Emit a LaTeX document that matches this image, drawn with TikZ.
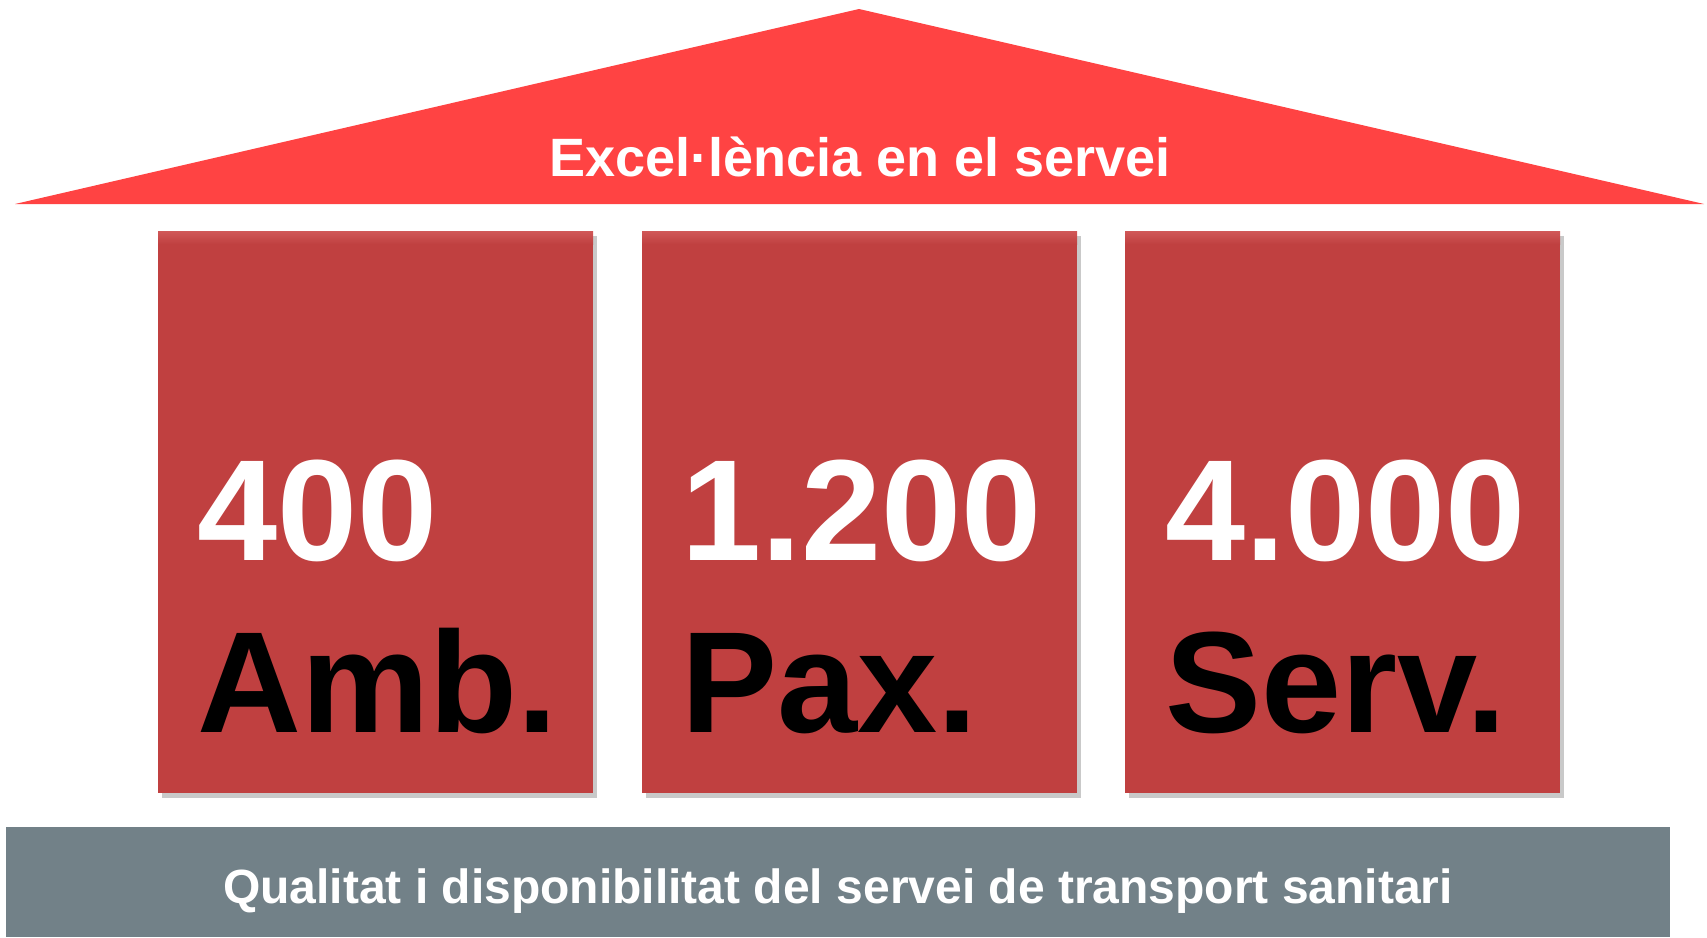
\documentclass[tikz,border=0pt]{standalone}
\usepackage{fontspec}
\setmainfont{Liberation Sans}
\usetikzlibrary{shadows}
\definecolor{roofred}{RGB}{255,67,67}
\definecolor{pillar}{RGB}{192,64,64}
\definecolor{pillartop}{RGB}{208,88,88}
\definecolor{basegrey}{RGB}{114,129,136}
\tikzset{
  pillarbox/.style={fill=pillar, draw=none, minimum width=435pt, minimum height=562pt, inner sep=0pt, anchor=north west,
    drop shadow={shadow xshift=4pt, shadow yshift=-5pt, opacity=0.3, fill=black!70}},
  bignum/.style={text=white, inner sep=0pt, anchor=base west, font=\fontsize{144}{150}\selectfont\bfseries},
  bigword/.style={text=black, inner sep=0pt, anchor=base west, font=\fontsize{144}{150}\selectfont\bfseries},
  rooftext/.style={text=white, inner sep=0pt, anchor=base, font=\fontsize{54}{60}\selectfont\bfseries},
  basetext/.style={text=white, inner sep=0pt, anchor=base, font=\fontsize{48}{54}\selectfont\bfseries}
}
\begin{document}
\begin{tikzpicture}[x=1pt,y=-1pt]
\useasboundingbox (0,0) rectangle (1707,937);
% roof
\fill[roofred] (15,204) -- (859,9) -- (1704,204) -- cycle;
\node[rooftext] (roof) at (860,176) {Excel·lència en el servei};
% pillars
\foreach \name/\x in {p1/158,p2/642,p3/1125}{
  \node[pillarbox] (\name) at (\x,231) {};
  \shade[top color=pillartop, bottom color=pillar] (\x,231) rectangle (\x+435,244);
}
% pillar texts
\foreach \name/\x/\num/\word in {a/197/400/Amb.,b/681/1.200/Pax.,c/1165/4.000/Serv.}{
  \node[bignum] (n\name) at (\x,560) {\num};
  \node[bigword] (w\name) at (\x,732) {\word};
}
% base
\fill[basegrey] (6,827) rectangle (1670,937);
\node[basetext] (base) at (838,903) {Qualitat i disponibilitat del servei de transport sanitari};
\end{tikzpicture}
\end{document}
